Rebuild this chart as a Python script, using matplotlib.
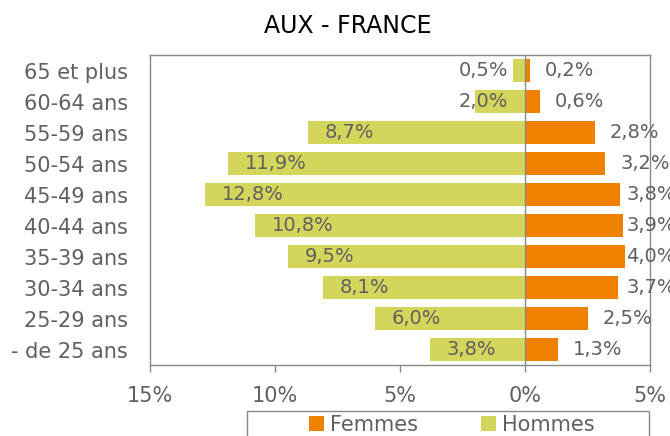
import matplotlib
matplotlib.use("Agg")
import matplotlib.pyplot as plt
from matplotlib.patches import Rectangle

categories = ["65 et plus", "60-64 ans", "55-59 ans", "50-54 ans", "45-49 ans",
              "40-44 ans", "35-39 ans", "30-34 ans", "25-29 ans", "- de 25 ans"]
hommes = [0.5, 2.0, 8.7, 11.9, 12.8, 10.8, 9.5, 8.1, 6.0, 3.8]
femmes = [0.2, 0.6, 2.8, 3.2, 3.8, 3.9, 4.0, 3.7, 2.5, 1.3]
xticks = [-15, -10, -5, 0, 5]
xticklabels = ["15%", "10%", "5%", "0%", "5%"]
title = "AUX - FRANCE"

C_F = "#F08000"
C_H = "#D4D55B"
GREY = "#898989"
TXT = "#606060"

plt.rcParams['font.family'] = ['DejaVu Sans']

fig = plt.figure(figsize=(6.7, 4.36), dpi=100)
ax = fig.add_axes([150/670, 71/436, 500/670, 310/436])

ypos = list(range(len(categories)))
neg_h = [-v for v in hommes]
bh = ax.barh(ypos, neg_h, height=0.74, color=C_H, label="Hommes", zorder=2)
bf = ax.barh(ypos, femmes, height=0.74, color=C_F, label="Femmes", zorder=2)

def fmt(v):
    return f"{v:.1f}".replace('.', ',') + '%'

for y, v in zip(ypos, hommes):
    x = min(-v + 0.68, -2.65)
    ax.text(x, y, fmt(v), ha='left', va='center', fontsize=14, color=TXT, zorder=4)
for y, v in zip(ypos, femmes):
    x = min(v + 0.6, 4.04)
    ax.text(x, y, fmt(v), ha='left', va='center', fontsize=14, color=TXT, zorder=4,
            clip_on=False)

ax.axvline(0, color=GREY, lw=1.0, zorder=3)

ax.set_xlim(-15, 5)
ax.set_ylim(len(categories) - 0.5, -0.5)
ax.set_xticks(xticks)
ax.set_xticklabels(xticklabels)
ax.set_yticks(ypos)
ax.set_yticklabels(categories)
ax.tick_params(axis='x', direction='out', length=5, width=1.0, color=GREY,
               labelsize=15, labelcolor=TXT, pad=10)
ax.tick_params(axis='y', length=0, labelsize=15, labelcolor=TXT, pad=16)
for s in ax.spines.values():
    s.set_color(GREY)
    s.set_linewidth(1.0)

fig.text(347.5/670, 1 - 33/436, title, ha='center', va='baseline', fontsize=17,
         color='black')

# legend box
fig.patches.append(Rectangle((247/670, -0.1), 402/670, 0.1 + (1 - 411/436),
                             transform=fig.transFigure, fill=False,
                             edgecolor=GREY, lw=1.0))
fig.legend(handles=[bf, bh], labels=["Femmes", "Hommes"], loc='center',
           bbox_to_anchor=(452/670, 1 - 425/436), ncol=2, frameon=False,
           fontsize=15, labelcolor=TXT, handlelength=0.72, handleheight=0.72,
           handletextpad=0.3, columnspacing=3.0, borderpad=0)

fig.savefig("out.png", dpi=100)
